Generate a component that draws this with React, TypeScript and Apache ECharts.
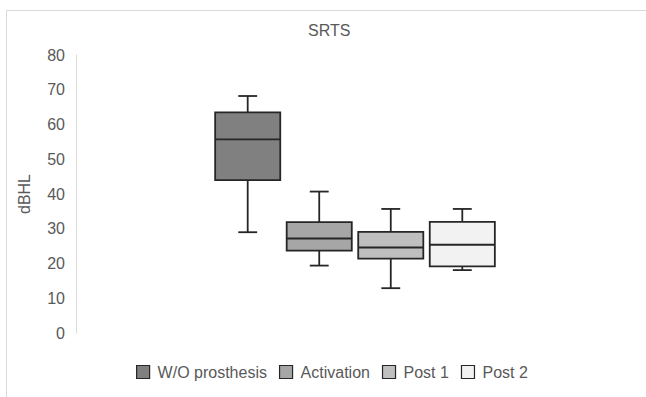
import React, { useEffect, useRef } from "react";
import * as echarts from "echarts";

// ---- Data ----
const seriesNames = ["W/O prosthesis", "Activation", "Post 1", "Post 2"];
const category = [""];
// [min, Q1, median, Q3, max]
const woProsthesis = [29, 44, 55.7, 63.5, 68.2];
const activation = [19.4, 23.7, 27.2, 31.9, 40.7];
const post1 = [12.9, 21.4, 24.6, 29.1, 35.7];
const post2 = [18.1, 19.2, 25.4, 32, 35.7];
const seriesValues = [woProsthesis, activation, post1, post2];
const yTicks = { min: 0, max: 80, interval: 10 };

// ---- Styles ----
const fills = ["#808080", "#a6a6a6", "#bfbfbf", "#f2f2f2"];
const edge = "#262626";
const textColor = "#595959";
const font = "'Liberation Sans', Arial, sans-serif";
const SLOT_FRACTION = 0.1282; // share of the category band per series
const BOX_FRACTION = 0.91; // box width / slot
const CAP_FRACTION = 0.29; // whisker cap / box width

export default function App() {
  const ref = useRef<HTMLDivElement>(null);

  useEffect(() => {
    document.body.style.margin = "0";
    if (!ref.current) return;
    const chart = echarts.init(ref.current, undefined, { renderer: "svg" });
    const n = seriesNames.length;

    const renderItem = (params: any, api: any) => {
      const cs = params.coordSys;
      const band = cs.width / category.length;
      const slot = band * SLOT_FRACTION;
      const boxW = slot * BOX_FRACTION;
      const capW = boxW * CAP_FRACTION;
      const base = api.coord([api.value(0), 0]);
      const cx = base[0] + (params.seriesIndex - (n - 1) / 2) * slot;
      const y = (k: number) => api.coord([api.value(0), api.value(k)])[1];
      const yMin = y(1), yQ1 = y(2), yMed = y(3), yQ3 = y(4), yMax = y(5);
      const ls = { stroke: edge, lineWidth: 1.8 };
      return {
        type: "group",
        children: [
          { type: "line", shape: { x1: cx, y1: yMax, x2: cx, y2: yQ3 }, style: ls },
          { type: "line", shape: { x1: cx, y1: yQ1, x2: cx, y2: yMin }, style: ls },
          { type: "line", shape: { x1: cx - capW / 2, y1: yMax, x2: cx + capW / 2, y2: yMax }, style: ls },
          { type: "line", shape: { x1: cx - capW / 2, y1: yMin, x2: cx + capW / 2, y2: yMin }, style: ls },
          {
            type: "rect",
            shape: { x: cx - boxW / 2, y: yQ3, width: boxW, height: yQ1 - yQ3 },
            style: { fill: fills[params.seriesIndex], stroke: edge, lineWidth: 1.8 },
          },
          { type: "line", shape: { x1: cx - boxW / 2, y1: yMed, x2: cx + boxW / 2, y2: yMed }, style: ls },
        ],
      };
    };

    chart.setOption({
      animation: false,
      backgroundColor: "#ffffff",
      title: {
        text: "SRTS",
        left: 308,
        top: 22,
        padding: 0,
        textStyle: { color: textColor, fontSize: 16, fontWeight: "normal", fontFamily: font },
      },
      graphic: [
        {
          type: "rect",
          z: -10,
          shape: { x: 6.5, y: 10.5, width: 700, height: 500 },
          style: { fill: "none", stroke: "#d9d9d9", lineWidth: 1 },
          silent: true,
        },
      ],
      legend: {
        left: 136,
        top: 364,
        padding: 0,
        itemWidth: 13,
        itemHeight: 13,
        itemGap: 12,
        icon: "rect",
        textStyle: { color: textColor, fontSize: 16, fontFamily: font, padding: [0, 0, 0, 3] },
        data: seriesNames.map((name, i) => ({
          name,
          itemStyle: { color: fills[i], borderColor: edge, borderWidth: 1.2 },
        })),
      },
      grid: { left: 76, right: 12, top: 55, bottom: 64, containLabel: false },
      xAxis: {
        type: "category",
        data: category,
        axisLine: { show: false },
        axisTick: { show: false },
        axisLabel: { show: false },
        splitLine: { show: false },
      },
      yAxis: {
        type: "value",
        min: yTicks.min,
        max: yTicks.max,
        interval: yTicks.interval,
        name: "dBHL",
        nameLocation: "middle",
        nameGap: 44,
        nameTextStyle: { color: textColor, fontSize: 16, fontFamily: font },
        axisLine: { show: true, lineStyle: { color: "#d9d9d9", width: 1 } },
        axisTick: { show: false },
        splitLine: { show: false },
        axisLabel: { color: textColor, fontSize: 16, fontFamily: font, margin: 11 },
      },
      series: seriesNames.map((name, i) => ({
        name,
        type: "custom",
        renderItem,
        itemStyle: { color: fills[i], borderColor: edge, borderWidth: 1.2 },
        encode: { x: 0, y: [1, 2, 3, 4, 5] },
        data: [[0, ...seriesValues[i]]],
      })),
    });

    return () => chart.dispose();
  }, []);

  return <div ref={ref} style={{ width: 646, height: 397 }} />;
}
